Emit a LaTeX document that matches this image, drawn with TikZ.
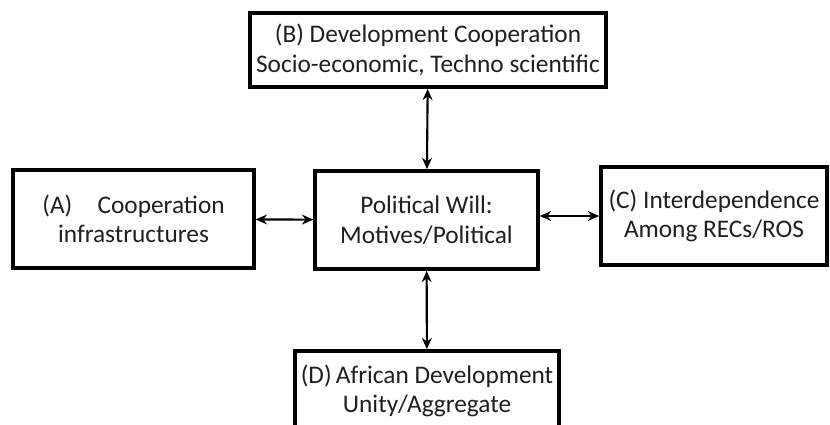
\documentclass[tikz,border=0pt]{standalone}
\usepackage{fontspec}
\setmainfont{Carlito}
\usetikzlibrary{arrows.meta}

\tikzset{
  box/.style={draw,rectangle,line width=2.6pt,align=center,
    font=\fontsize{18}{21}\selectfont,inner sep=2pt,text=black!88},
  link/.style={{Stealth[length=8pt,width=7pt]}-{Stealth[length=8pt,width=7pt]},line width=1.5pt}
}

\begin{document}
\begin{tikzpicture}[x=0.025cm,y=-0.025cm]
        \useasboundingbox (0,0) rectangle (830,424);
        % boxes
        \node[box,minimum width=8.9cm,minimum height=1.85cm] (B) at (428,50)
          {(B) Development Cooperation\\Socio-economic, Techno scientific};
        \node[box,minimum width=6.02cm,minimum height=2.45cm] (A) at (133.5,219)
          {(A)\quad Cooperation\\infrastructures};
        \node[box,minimum width=5.57cm,minimum height=2.45cm] (P) at (426.5,220)
          {Political Will:\\Motives/Political};
        \node[box,minimum width=5.65cm,minimum height=2.45cm] (C) at (714,216)
          {(C) Interdependence\\Among RECs/ROS};
        \node[box,minimum width=6.6cm,minimum height=2cm] (D) at (427,391)
          {(D)\,African Development\\Unity/Aggregate};
        % arrows
        \draw[link] (B) -- (P);
        \draw[link] (A) -- (P);
        \draw[link] (P.east|-C) -- (C);
        \draw[link] (P) -- (D);
    \end{tikzpicture}
\end{document}
